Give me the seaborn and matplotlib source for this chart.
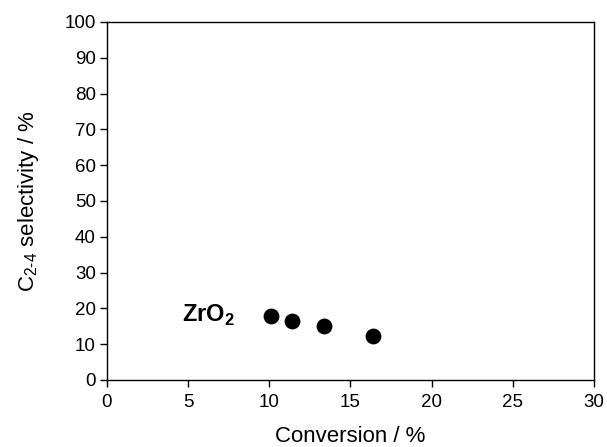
import matplotlib
matplotlib.use("Agg")
import matplotlib.pyplot as plt
import seaborn as sns
import pandas as pd

conversion = [10.1, 11.4, 13.4, 16.4]
selectivity = [17.9, 16.5, 15.2, 12.3]

sns.set_style("ticks")
plt.rcParams['font.family'] = ['Liberation Sans', 'DejaVu Sans']
plt.rcParams['mathtext.fontset'] = 'custom'
plt.rcParams['mathtext.rm'] = 'Liberation Sans'
plt.rcParams['mathtext.bf'] = 'Liberation Sans:bold'
plt.rcParams['text.color'] = 'black'
plt.rcParams['axes.labelcolor'] = 'black'

df = pd.DataFrame({"conv": conversion, "sel": selectivity})

fig = plt.figure(figsize=(6.07, 4.47), dpi=100)
ax = fig.add_axes([0.176, 0.150, 0.8026, 0.801])
sns.scatterplot(data=df, x="conv", y="sel", ax=ax, color="black", s=130, edgecolor="black", linewidth=0)

ax.set_xlim(0, 30)
ax.set_ylim(0, 100)
ax.set_xticks(range(0, 31, 5))
ax.set_yticks(range(0, 101, 10))
ax.tick_params(axis='both', direction='out', length=5, width=1, labelsize=13.5, colors='black', pad=3)
ax.tick_params(axis='x', pad=5)
for s in ax.spines.values():
    s.set_linewidth(1)
    s.set_color('black')
ax.set_xlabel("Conversion / %", fontsize=16, labelpad=11)
ax.set_ylabel("C$_{2\\text{-}4}$ selectivity / %", fontsize=16, labelpad=17)
ax.text(4.65, 16.2, "ZrO$_\\mathbf{2}$", fontsize=17, fontweight='bold', va='baseline', ha='left')

fig.savefig("out.png", dpi=100)
